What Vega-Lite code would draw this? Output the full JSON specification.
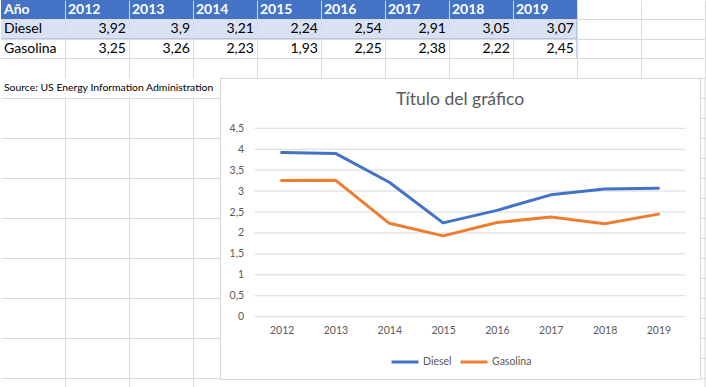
{
  "$schema": "https://vega.github.io/schema/vega-lite/v6.json",
  "padding": 0,
  "background": "white",
  "spacing": 0,
  "bounds": "flush",
  "config": {
    "view": {"stroke": null},
    "font": "Lato",
    "concat": {"spacing": 0},
    "locale": {"number": {"decimal": ",", "thousands": ".", "grouping": [3], "currency": ["", " €"]}},
    "axis": {"gridColor": "#dadada", "gridWidth": 1}
  },
  "datasets": {
    "prices": [
      {"fuel": "Diesel", "year": 2012, "price": 3.92},
      {"fuel": "Diesel", "year": 2013, "price": 3.9},
      {"fuel": "Diesel", "year": 2014, "price": 3.21},
      {"fuel": "Diesel", "year": 2015, "price": 2.24},
      {"fuel": "Diesel", "year": 2016, "price": 2.54},
      {"fuel": "Diesel", "year": 2017, "price": 2.91},
      {"fuel": "Diesel", "year": 2018, "price": 3.05},
      {"fuel": "Diesel", "year": 2019, "price": 3.07},
      {"fuel": "Gasolina", "year": 2012, "price": 3.25},
      {"fuel": "Gasolina", "year": 2013, "price": 3.26},
      {"fuel": "Gasolina", "year": 2014, "price": 2.23},
      {"fuel": "Gasolina", "year": 2015, "price": 1.93},
      {"fuel": "Gasolina", "year": 2016, "price": 2.25},
      {"fuel": "Gasolina", "year": 2017, "price": 2.38},
      {"fuel": "Gasolina", "year": 2018, "price": 2.22},
      {"fuel": "Gasolina", "year": 2019, "price": 2.45}
    ]
  },
  "vconcat": [
    {
      "width": 704,
      "height": 78,
      "data": {"name": "prices"},
      "layer": [
        {
          "data": {"values": [{}]},
          "mark": {"type": "rect", "color": "#4472C4"},
          "encoding": {
            "x": {"datum": "Año", "type": "ordinal", "bandPosition": 0,
              "scale": {"type": "band", "domain": ["Año", 2012, 2013, 2014, 2015, 2016, 2017, 2018, 2019, "J", "K"], "paddingInner": 0, "paddingOuter": 0},
              "axis": {"grid": true, "bandPosition": 1, "labels": false, "ticks": false, "domain": false, "title": null}},
            "x2": {"datum": 2019, "bandPosition": 1},
            "y": {"datum": "hdr", "type": "ordinal",
              "scale": {"type": "band", "domain": ["hdr", "Diesel", "Gasolina", "blank"], "paddingInner": 0, "paddingOuter": 0},
              "axis": {"grid": true, "bandPosition": 1, "labels": false, "ticks": false, "domain": false, "title": null}}
          }
        },
        {
          "data": {"values": [{}]},
          "mark": {"type": "rect", "color": "#D9E1F2"},
          "encoding": {
            "x": {"datum": "Año", "type": "ordinal", "bandPosition": 0},
            "x2": {"datum": 2019, "bandPosition": 1},
            "y": {"datum": "Diesel", "type": "ordinal"}
          }
        },
        {
          "data": {"values": [{"row": "Diesel"}, {"row": "Gasolina"}]},
          "mark": {"type": "rule", "color": "#8EA9DB", "strokeWidth": 1},
          "encoding": {
            "x": {"datum": "Año", "type": "ordinal", "bandPosition": 0},
            "x2": {"datum": 2019, "bandPosition": 1},
            "y": {"field": "row", "type": "ordinal", "bandPosition": 1}
          }
        },
        {
          "data": {"values": [{}]},
          "mark": {"type": "rule", "color": "#8EA9DB", "strokeWidth": 1},
          "encoding": {
            "x": {"datum": 2019, "type": "ordinal", "bandPosition": 1},
            "y": {"datum": "Diesel", "type": "ordinal", "bandPosition": 0},
            "y2": {"datum": "Gasolina", "bandPosition": 1}
          }
        },
        {
          "transform": [{"filter": "datum.fuel === 'Diesel'"}],
          "mark": {"type": "text", "align": "left", "baseline": "middle", "dx": 3, "fontSize": 14, "fontWeight": "bold", "color": "white"},
          "encoding": {
            "x": {"field": "year", "type": "ordinal", "bandPosition": 0},
            "y": {"datum": "hdr", "type": "ordinal"},
            "text": {"field": "year", "type": "nominal"}
          }
        },
        {
          "data": {"values": [{"h": "Año"}]},
          "mark": {"type": "text", "align": "left", "baseline": "middle", "dx": 3, "fontSize": 14, "fontWeight": "bold", "color": "white"},
          "encoding": {
            "x": {"datum": "Año", "type": "ordinal", "bandPosition": 0},
            "y": {"datum": "hdr", "type": "ordinal"},
            "text": {"field": "h", "type": "nominal"}
          }
        },
        {
          "transform": [{"filter": "datum.year === 2012"}],
          "mark": {"type": "text", "align": "left", "baseline": "middle", "dx": 3, "fontSize": 14, "color": "black"},
          "encoding": {
            "x": {"datum": "Año", "type": "ordinal", "bandPosition": 0},
            "y": {"field": "fuel", "type": "ordinal"},
            "text": {"field": "fuel", "type": "nominal"}
          }
        },
        {
          "mark": {"type": "text", "align": "right", "baseline": "middle", "dx": -3, "fontSize": 14, "color": "black"},
          "encoding": {
            "x": {"field": "year", "type": "ordinal", "bandPosition": 1},
            "y": {"field": "fuel", "type": "ordinal"},
            "text": {"field": "price", "type": "quantitative", "format": "~g"}
          }
        }
      ]
    },
    {
      "spacing": 0,
      "bounds": "flush",
      "resolve": {"scale": {"color": "independent"}, "legend": {"color": "independent"}},
      "hconcat": [
        {
          "width": 219,
          "height": 309,
          "data": {"values": [{"note": "Source: US Energy Information Administration"}]},
          "layer": [
            {
              "mark": {"type": "rect", "color": "white"},
              "encoding": {
                "x": {"datum": 0, "type": "quantitative", "scale": {"domain": [0, 3.421875], "nice": false, "zero": false},
                  "axis": {"values": [1, 2, 3], "grid": true, "labels": false, "ticks": false, "domain": false, "title": null}},
                "x2": {"datum": 3.421875},
                "y": {"datum": 0, "type": "quantitative", "scale": {"domain": [0, 15.45], "nice": false, "zero": false, "reverse": true},
                  "axis": {"values": [1, 2, 3, 4, 5, 6, 7, 8, 9, 10, 11, 12, 13, 14, 15], "grid": true, "labels": false, "ticks": false, "domain": false, "title": null}},
                "y2": {"datum": 0.97}
              }
            },
            {
              "mark": {"type": "text", "align": "left", "baseline": "middle", "dx": 3, "fontSize": 10.4, "color": "black"},
              "encoding": {
                "x": {"datum": 0, "type": "quantitative"},
                "y": {"datum": 0.5, "type": "quantitative"},
                "text": {"field": "note", "type": "nominal"}
              }
            }
          ]
        },
        {
          "width": 480,
          "height": 301,
          "view": {"stroke": "#d9d9d9", "strokeWidth": 1, "fill": "white"},
          "title": {"text": "Título del gráfico", "offset": -30, "fontSize": 17.5, "fontWeight": "normal", "color": "#595959", "font": "Lato", "anchor": "middle"},
          "layer": [
            {
              "data": {"values": [{"v": 0}, {"v": 0.5}, {"v": 1}, {"v": 1.5}, {"v": 2}, {"v": 2.5}, {"v": 3}, {"v": 3.5}, {"v": 4}, {"v": 4.5}]},
              "mark": {"type": "rule", "color": "#d9d9d9", "strokeWidth": 1},
              "encoding": {
                "x": {"datum": 2011.5, "type": "quantitative",
                  "scale": {"domain": [2010.855, 2019.772], "nice": false, "zero": false},
                  "axis": {"values": [2012, 2013, 2014, 2015, 2016, 2017, 2018, 2019], "format": "d", "domain": false, "ticks": false, "grid": false, "offset": -62.3, "labelPadding": 9, "labelFontSize": 10.5, "labelColor": "#595959", "labelFont": "Lato", "labelFlush": false, "title": null}},
                "x2": {"datum": 2019.5},
                "y": {"field": "v", "type": "quantitative",
                  "scale": {"domain": [-1.488, 5.701], "nice": false, "zero": false},
                  "axis": {"values": [0, 0.5, 1, 1.5, 2, 2.5, 3, 3.5, 4, 4.5], "format": ".2~g", "domain": false, "ticks": false, "grid": false, "offset": -34.7, "labelPadding": 11, "labelFontSize": 10.5, "labelColor": "#595959", "labelFont": "Lato", "title": null}}
              }
            },
            {
              "data": {"name": "prices"},
              "mark": {"type": "line", "strokeWidth": 3, "strokeJoin": "round", "strokeCap": "round"},
              "encoding": {
                "x": {"field": "year", "type": "quantitative",
                  "scale": {"domain": [2010.855, 2019.772], "nice": false, "zero": false},
                  "axis": {"values": [2012, 2013, 2014, 2015, 2016, 2017, 2018, 2019], "format": "d", "domain": false, "ticks": false, "grid": false, "offset": -62.3, "labelPadding": 9, "labelFontSize": 10.5, "labelColor": "#595959", "labelFont": "Lato", "labelFlush": false, "title": null}},
                "y": {"field": "price", "type": "quantitative",
                  "scale": {"domain": [-1.488, 5.701], "nice": false, "zero": false},
                  "axis": {"values": [0, 0.5, 1, 1.5, 2, 2.5, 3, 3.5, 4, 4.5], "format": ".2~g", "domain": false, "ticks": false, "grid": false, "offset": -34.7, "labelPadding": 11, "labelFontSize": 10.5, "labelColor": "#595959", "labelFont": "Lato", "title": null}},
                "color": {"field": "fuel", "type": "nominal",
                  "scale": {"domain": ["Diesel", "Gasolina"], "range": ["#4472C4", "#ED7D31"]},
                  "legend": {"orient": "none", "legendX": 170, "legendY": 269, "direction": "horizontal", "title": null, "symbolType": "stroke", "symbolSize": 729, "symbolStrokeWidth": 3, "labelFontSize": 10.5, "labelColor": "#595959", "labelFont": "Lato", "labelOffset": 3, "columnPadding": 2, "padding": 0}}
              }
            }
          ]
        },
        {
          "width": 7,
          "height": 309,
          "data": {"values": [{}]},
          "mark": {"type": "rule", "color": "#dadada", "strokeWidth": 1},
          "encoding": {
            "x": {"datum": 11, "type": "quantitative", "scale": {"domain": [10.921875, 11.03125], "nice": false, "zero": false}, "axis": null},
            "y": {"datum": 0, "type": "quantitative", "scale": {"domain": [0, 15.45], "nice": false, "zero": false, "reverse": true},
              "axis": {"values": [1, 2, 3, 4, 5, 6, 7, 8, 9, 10, 11, 12, 13, 14, 15], "grid": true, "labels": false, "ticks": false, "domain": false, "title": null}},
            "y2": {"datum": 15.45}
          }
        }
      ]
    }
  ]
}
